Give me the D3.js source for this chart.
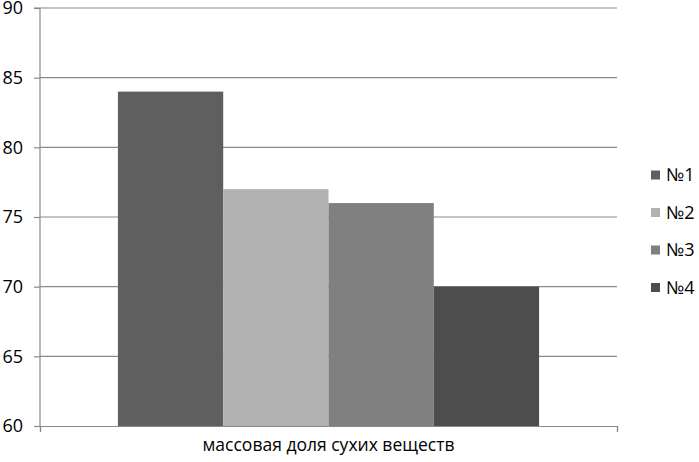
<!DOCTYPE html>
<html>
<head>
<meta charset="utf-8">
<script src="https://cdn.jsdelivr.net/npm/d3@7"></script>
<style>
  body { margin: 0; background: #fff; }
  text { font-family: "Open Sans", "Noto Sans", sans-serif; fill: #000; }
</style>
</head>
<body>
<svg id="chart" width="699" height="462"></svg>
<script>
let category = "массовая доля сухих веществ";
let series = ["№1", "№2", "№3", "№4"];
let values = [84, 77, 76, 70];
let colors = ["#5f5f5f", "#b2b2b2", "#808080", "#4d4d4d"];
let y_ticks = [60, 65, 70, 75, 80, 85, 90];

let plot_left = 40, plot_right = 617, plot_top = 8, plot_bottom = 426;

let svg = d3.select("#chart");

let y = d3.scaleLinear().domain([60, 90]).range([plot_bottom, plot_top]);
let x0 = d3.scaleBand().domain([category]).range([plot_left, plot_right]).paddingInner(0).paddingOuter(0.185);
let x1 = d3.scaleBand().domain(series).range([0, x0.bandwidth()]);

// gridlines
svg.append("g")
    .selectAll("line")
    .data(y_ticks.filter(d => d > 60))
    .join("line")
    .attr("x1", plot_left)
    .attr("x2", plot_right)
    .attr("y1", d => y(d))
    .attr("y2", d => y(d))
    .attr("stroke", "#8a8a8a")
    .attr("stroke-width", 1.2);

// bars
svg.append("g")
    .selectAll("rect")
    .data(values)
    .join("rect")
    .attr("x", (d, i) => x0(category) + x1(series[i]))
    .attr("width", x1.bandwidth())
    .attr("y", d => y(d))
    .attr("height", d => plot_bottom - y(d))
    .attr("fill", (d, i) => colors[i]);

// y axis
let yAxis = svg.append("g")
    .attr("transform", `translate(${plot_left},0)`)
    .call(d3.axisLeft(y).tickValues(y_ticks).tickSize(6).tickPadding(11));
yAxis.selectAll("line, path").attr("stroke", "#8a8a8a").attr("stroke-width", 1.2);
yAxis.selectAll("text").style("font-size", "18px").attr("fill", "#000");
yAxis.select(".domain").attr("d", `M-6,${plot_top}H0V${plot_bottom}`);

// x axis
let xAxis = svg.append("g")
    .attr("transform", `translate(0,${plot_bottom})`)
    .call(d3.axisBottom(d3.scaleLinear().domain([0, 1]).range([plot_left, plot_right])).tickValues([0, 1]).tickSize(6).tickFormat(""));
xAxis.selectAll("line, path").attr("stroke", "#8a8a8a").attr("stroke-width", 1.2);

svg.append("text")
    .attr("x", (plot_left + plot_right) / 2)
    .attr("y", 451)
    .attr("text-anchor", "middle")
    .style("font-size", "17.5px")
    .text(category);

// legend
let legend = svg.append("g")
    .selectAll("g")
    .data(series)
    .join("g")
    .attr("transform", (d, i) => `translate(651,${175 + i * 37.5})`);
legend.append("rect")
    .attr("x", 0).attr("y", -4.5)
    .attr("width", 9).attr("height", 9)
    .attr("fill", (d, i) => colors[i]);
legend.append("text")
    .attr("x", 15).attr("y", 0)
    .attr("dy", "0.35em")
    .style("font-size", "18px")
    .text(d => d);
</script>
</body>
</html>
